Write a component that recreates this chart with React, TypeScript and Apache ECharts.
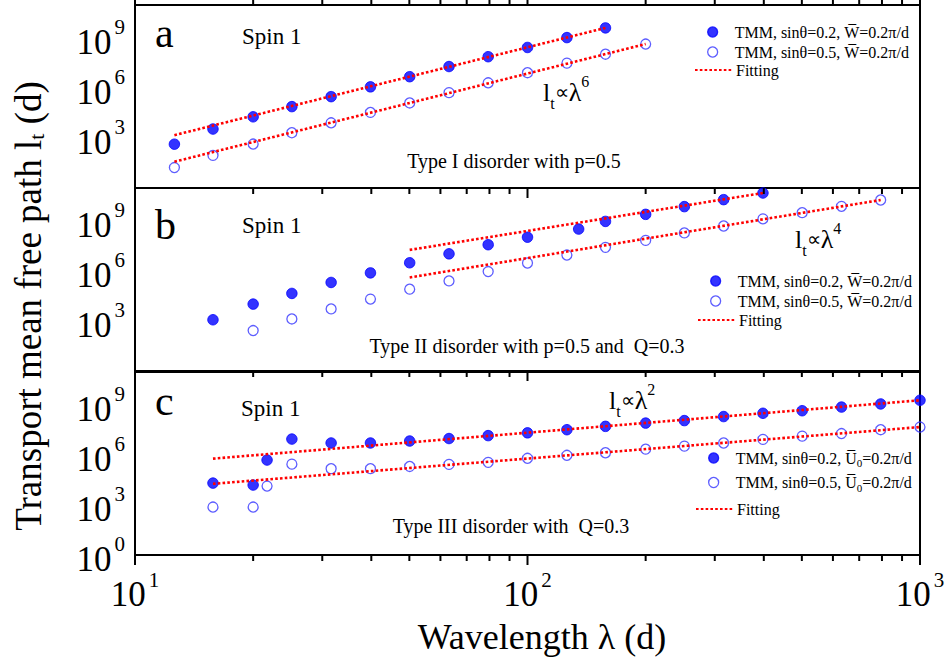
import React, { useEffect, useRef } from 'react';
import * as echarts from 'echarts';

const FONT = '"Liberation Serif", "Times New Roman", Times, serif';

// ---------- Data ----------
// Panel a : Type I disorder
const aFilledX = [12.6, 15.8, 20, 25.1, 31.6, 39.8, 50.1, 63.1, 79.4, 100, 126, 158];
const aFilledY = [4.3e2, 3.5e3, 1.9e4, 7.8e4, 3.1e5, 1.2e6, 4.9e6, 2.0e7, 7.8e7, 2.8e8, 1.1e9, 4.2e9];
const aOpenX = [12.6, 15.8, 20, 25.1, 31.6, 39.8, 50.1, 63.1, 79.4, 100, 126, 158, 200];
const aOpenY = [17, 91, 4.4e2, 2.1e3, 8.3e3, 3.5e4, 1.3e5, 5.4e5, 2.1e6, 8.5e6, 3.2e7, 1.1e8, 4.5e8];
const aFit1X = [12.6, 158];
const aFit1Y = [1.5e3, 4.2e9];
const aFit2X = [12.6, 200];
const aFit2Y = [38, 4.5e8];

// Panel b : Type II disorder
const bFilledX = [15.8, 20, 25.1, 31.6, 39.8, 50.1, 63.1, 79.4, 100, 135, 158, 200, 251, 316, 398];
const bFilledY = [1.2e3, 1.05e4, 4.6e4, 2.1e5, 7.9e5, 3.2e6, 1.1e7, 3.9e7, 1.1e8, 3.4e8, 9.8e8, 2.6e9, 7.6e9, 2.0e10, 5.0e10];
const bOpenX = [20, 25.1, 31.6, 39.8, 50.1, 63.1, 79.4, 100, 126, 158, 200, 251, 316, 398, 501, 631, 794];
const bOpenY = [2.7e2, 1.35e3, 5.4e3, 2.1e4, 8.3e4, 2.6e5, 9.5e5, 3.1e6, 9.3e6, 2.7e7, 7.1e7, 2.0e8, 5.2e8, 1.4e9, 3.3e9, 7.9e9, 1.9e10];
const bFit1X = [50.1, 398];
const bFit1Y = [1.9e7, 5.0e10];
const bFit2X = [50.1, 794];
const bFit2Y = [4.2e5, 1.9e10];

// Panel c : Type III disorder
const cFilledX = [15.8, 20, 21.7, 25.1, 31.6, 39.8, 50.1, 63.1, 79.4, 100, 126, 158, 200, 251, 316, 398, 501, 631, 794, 1000];
const cFilledY = [2.1e4, 1.6e4, 5.1e5, 9.3e6, 5.4e6, 5.4e6, 7.1e6, 1.0e7, 1.5e7, 2.2e7, 3.4e7, 5.4e7, 8.5e7, 1.2e8, 2.1e8, 3.3e8, 4.7e8, 7.8e8, 1.2e9, 2.0e9];
const cOpenX = [15.8, 20, 21.7, 25.1, 31.6, 39.8, 50.1, 63.1, 79.4, 100, 126, 158, 200, 251, 316, 398, 501, 631, 794, 1000];
const cOpenY = [7.6e2, 7.6e2, 1.4e4, 2.9e5, 1.55e5, 1.55e5, 2.1e5, 2.8e5, 3.7e5, 6.5e5, 9.8e5, 1.4e6, 2.3e6, 3.5e6, 5.4e6, 8.9e6, 1.4e7, 2.0e7, 3.4e7, 4.9e7];
const cFit1X = [15.8, 1000];
const cFit1Y = [6.2e5, 2.0e9];
const cFit2X = [15.8, 1000];
const cFit2Y = [1.9e4, 4.9e7];

// Axis ranges / ticks / tick labels
const X_MIN = 10;
const X_MAX = 1000;
const Y_MIN = 1;
const Y_MAX = 1e11;
const xMajor = [10, 100, 1000];
const xMinor = [20, 30, 40, 50, 60, 70, 80, 90, 200, 300, 400, 500, 600, 700, 800, 900];
const yLabelsAB = [1e3, 1e6, 1e9];
const yLabelsC = [1, 1e3, 1e6, 1e9];
const yMajor = [1, 1e3, 1e6, 1e9];
const yMinor: number[] = [];
for (let k = 1; k <= 33; k++) if (k % 9 !== 0) yMinor.push(Math.pow(10, k / 3));

const legendText: Record<string, string> = {
  fA: 'TMM, sinθ=0.2, W\u0305=0.2π/d',
  oA: 'TMM, sinθ=0.5, W\u0305=0.2π/d',
  fitA: 'Fitting',
  fB: 'TMM, sinθ=0.2, W\u0305=0.2π/d',
  oB: 'TMM, sinθ=0.5, W\u0305=0.2π/d',
  fitB: 'Fitting',
  fC: 'TMM, sinθ=0.2, U\u0305{sub|0}=0.2π/d',
  oC: 'TMM, sinθ=0.5, U\u0305{sub|0}=0.2π/d',
  fitC: 'Fitting',
};

const pairs = (xs: number[], ys: number[]) => xs.map((x, i) => [x, ys[i]]);

const GRIDS = [
  { left: 135, top: 5, width: 785, height: 183 },
  { left: 135, top: 188, width: 785, height: 183 },
  { left: 135, top: 372, width: 785, height: 183 },
];

const powRich = {
  b: { fontSize: 35, fontFamily: FONT, color: '#000', padding: [8, 0, 0, 0] },
  s: { fontSize: 21, fontFamily: FONT, color: '#000', verticalAlign: 'top', padding: [0, 0, 0, 3] },
};
const powFmt = (v: number) => `{b|10}{s|${Math.round(Math.log10(v))}}`;

function xAxis(gridIndex: number, labels: boolean) {
  return {
    type: 'log', logBase: 10, gridIndex, min: X_MIN, max: X_MAX, position: 'bottom',
    splitLine: { show: false }, minorTick: { show: false }, axisPointer: { show: false },
    axisLine: { show: true, lineStyle: { color: '#000', width: 2 } },
    axisTick: { show: false },
    axisLabel: labels
      ? { show: true, customValues: xMajor, formatter: powFmt, rich: powRich, margin: 14 }
      : { show: false },
  };
}

function yAxis(gridIndex: number, labelVals: number[]) {
  return {
    type: 'log', logBase: 10, gridIndex, min: Y_MIN, max: Y_MAX, position: 'left',
    splitLine: { show: false }, minorTick: { show: false }, axisPointer: { show: false },
    axisLine: { show: true, lineStyle: { color: '#000', width: 2 } },
    axisTick: { show: false },
    axisLabel: { show: true, customValues: labelVals, formatter: powFmt, rich: powRich, margin: 10 },
  };
}

function filled(name: string, xs: number[], ys: number[], i: number) {
  return {
    type: 'scatter', name, xAxisIndex: i, yAxisIndex: i, data: pairs(xs, ys),
    symbol: 'circle', symbolSize: 10.5, clip: false, silent: true, z: 2,
    itemStyle: { color: '#0000ff', borderColor: '#0000ff', borderWidth: 1 },
    emphasis: { disabled: true },
  };
}
function open(name: string, xs: number[], ys: number[], i: number) {
  return {
    type: 'scatter', name, xAxisIndex: i, yAxisIndex: i, data: pairs(xs, ys),
    symbol: 'circle', symbolSize: 10, clip: false, silent: true, z: 2,
    itemStyle: { color: 'rgba(255,255,255,0)', borderColor: '#3535ff', borderWidth: 1.3 },
    emphasis: { disabled: true },
  };
}
function fit(name: string, xs: number[], ys: number[], i: number) {
  return {
    type: 'line', name, xAxisIndex: i, yAxisIndex: i, data: pairs(xs, ys),
    symbol: 'none', showSymbol: false, clip: false, silent: true, z: 3,
    lineStyle: { color: '#ff0000', width: 2.6, type: [2.6, 2.2], cap: 'butt' },
    itemStyle: { color: '#ff0000' },
    emphasis: { disabled: true },
  };
}

// ---------- tick marks as short line series on the log axes ----------
const DEC_PX_Y = GRIDS[0].height / (Math.log10(Y_MAX) - Math.log10(Y_MIN));
const DEC_PX_X = GRIDS[0].width / (Math.log10(X_MAX) - Math.log10(X_MIN));
const belowY = (len: number) => Y_MIN * Math.pow(10, -len / DEC_PX_Y);
const aboveY = (len: number) => Y_MAX * Math.pow(10, len / DEC_PX_Y);
const leftOfX = (len: number) => X_MIN * Math.pow(10, -len / DEC_PX_X);

function tickSeg(i: number, p1: number[], p2: number[]) {
  return {
    type: 'line', name: '', xAxisIndex: i, yAxisIndex: i, data: [p1, p2],
    symbol: 'none', showSymbol: false, clip: false, silent: true, z: 5,
    lineStyle: { color: '#000', width: 2, type: 'solid' },
    emphasis: { disabled: true }, tooltip: { show: false },
  };
}
function tickSeries() {
  const out: any[] = [];
  for (let i = 0; i < 3; i++) {
    const addX = (vals: number[], len: number) =>
      vals.forEach((v) => {
        out.push(tickSeg(i, [v, Y_MIN], [v, belowY(len)]));
        if (i === 0) out.push(tickSeg(i, [v, Y_MAX], [v, aboveY(len)]));
      });
    const addY = (vals: number[], len: number) =>
      vals.forEach((v) => out.push(tickSeg(i, [X_MIN, v], [leftOfX(len), v])));
    addX(xMajor, 10);
    addX(xMinor, 6);
    addY(yMajor, 10);
    addY(yMinor, 6);
  }
  return out;
}

const legendTextStyle = {
  fontFamily: FONT, fontSize: 16, color: '#000', padding: [0, 0, 0, -2],
  rich: { sub: { fontFamily: FONT, fontSize: 11, color: '#000', verticalAlign: 'bottom', padding: [10, 0, 0, 0] } },
};
function legend(left: number, top: number, gap: number, names: any[]) {
  return {
    left, top, orient: 'vertical', align: 'left', padding: 0,
    itemWidth: 38, itemHeight: 10, itemGap: gap, selectedMode: false,
    data: names,
    formatter: (n: string) => legendText[n],
    itemStyle: { borderWidth: 1.3 },
    textStyle: legendTextStyle,
  };
}
const fitEntry = (name: string) => ({ name, itemStyle: { opacity: 0 } });

function text(x: number, y: number, str: string, size: number, align = 'left', rich?: any) {
  return {
    type: 'text', x, y, silent: true, z: 10,
    style: {
      text: str, fontSize: size, fontFamily: FONT, fill: '#000',
      align, verticalAlign: 'middle', textAlign: align, textVerticalAlign: 'middle',
      ...(rich ? { rich } : {}),
    },
  };
}

const lawRich = {
  m: { fontSize: 26, fontFamily: FONT, color: '#000', padding: [6, 0, 6, 0] },
  p: { fontSize: 20, fontFamily: FONT, color: '#000', padding: [6, 0, 6, 0] },
  sub: { fontSize: 16, fontFamily: FONT, color: '#000', verticalAlign: 'bottom' },
  sup: { fontSize: 16, fontFamily: FONT, color: '#000', verticalAlign: 'top' },
};
const law = (n: number) => `{m|l}{sub|t}{p|∝}{m|λ}{sup|${n}}`;

export default function App() {
  const ref = useRef<HTMLDivElement>(null);
  useEffect(() => {
    if (!ref.current) return;
    const chart = echarts.init(ref.current, undefined, { renderer: 'svg' });
    chart.setOption({
      animation: false,
      backgroundColor: '#ffffff',
      textStyle: { fontFamily: FONT },
      grid: GRIDS.map((g) => ({
        ...g, show: true, borderColor: '#000', borderWidth: 2,
        backgroundColor: 'rgba(0,0,0,0)', containLabel: false, outerBoundsMode: 'none',
      })),
      xAxis: [xAxis(0, false), xAxis(1, false), xAxis(2, true)],
      yAxis: [yAxis(0, yLabelsAB), yAxis(1, yLabelsAB), yAxis(2, yLabelsC)],
      legend: [
        legend(707, 24, 4, ['fA', 'oA']),
        legend(694, 62, 4, [fitEntry('fitA')]),
        legend(710, 273, 4, ['fB', 'oB']),
        legend(697, 312, 4, [fitEntry('fitB')]),
        legend(708, 450, 6, ['fC', 'oC']),
        legend(695, 501, 4, [fitEntry('fitC')]),
      ],
      series: [
        filled('fA', aFilledX, aFilledY, 0),
        open('oA', aOpenX, aOpenY, 0),
        fit('fitA', aFit1X, aFit1Y, 0),
        fit('fitA', aFit2X, aFit2Y, 0),
        filled('fB', bFilledX, bFilledY, 1),
        open('oB', bOpenX, bOpenY, 1),
        fit('fitB', bFit1X, bFit1Y, 1),
        fit('fitB', bFit2X, bFit2Y, 1),
        filled('fC', cFilledX, cFilledY, 2),
        open('oC', cOpenX, cOpenY, 2),
        fit('fitC', cFit1X, cFit1Y, 2),
        fit('fitC', cFit2X, cFit2Y, 2),
        ...tickSeries(),
      ],
      graphic: [
        text(155, 33, 'a', 42),
        text(155, 225, 'b', 42),
        text(155, 401, 'c', 42),
        text(242, 36, 'Spin 1', 23),
        text(242, 225, 'Spin 1', 23),
        text(241, 408, 'Spin 1', 23),
        text(514, 161, 'Type I disorder with p=0.5', 20, 'center'),
        text(527, 346, 'Type II disorder with p=0.5 and  Q=0.3', 20, 'center'),
        text(511, 526, 'Type III disorder with  Q=0.3', 20, 'center'),
        text(543, 92, law(6), 26, 'left', lawRich),
        text(795, 239, law(4), 26, 'left', lawRich),
        text(609, 400, law(2), 26, 'left', lawRich),
        {
          type: 'text', x: 28, y: 306, rotation: Math.PI / 2, silent: true,
          style: {
            text: 'Transport mean free path l{sub|t} (d)', fontSize: 37, fontFamily: FONT, fill: '#000',
            align: 'center', verticalAlign: 'middle', textAlign: 'center', textVerticalAlign: 'middle',
            rich: { sub: { fontSize: 22, fontFamily: FONT, color: '#000', verticalAlign: 'bottom', padding: [16, 0, 0, 0] } },
          },
        },
        text(542, 637, 'Wavelength λ (d)', 36, 'center'),
      ],
    });
    return () => chart.dispose();
  }, []);
  return (
    <div
      ref={ref}
      style={{ position: 'absolute', left: 0, top: 0, width: 947, height: 660, background: '#fff' }}
    />
  );
}
